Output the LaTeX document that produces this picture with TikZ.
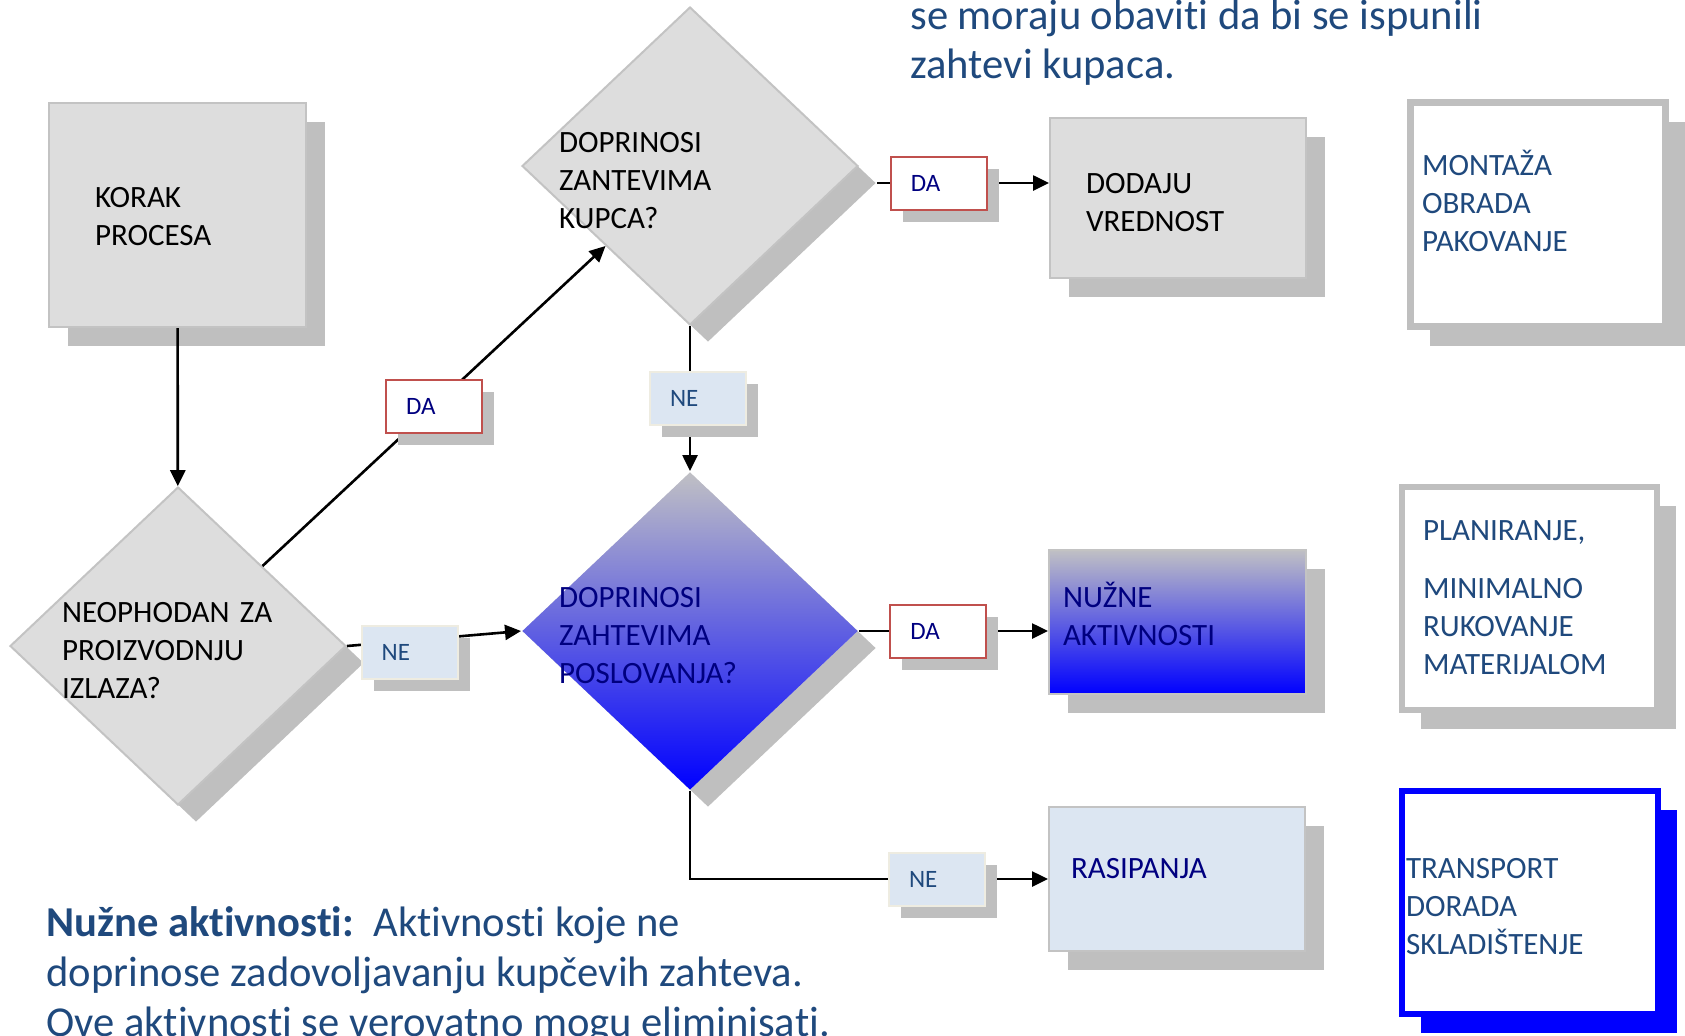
\documentclass[tikz,border=0pt]{standalone}
\usepackage{fontspec}
\setmainfont{Carlito}[Ligatures=NoCommon]
\usetikzlibrary{shapes,arrows.meta,calc,shadows}
\definecolor{boxgray}{RGB}{221,221,221}
\definecolor{edgegray}{RGB}{195,195,195}
\definecolor{shadegray}{RGB}{191,191,191}
\definecolor{fadegray}{RGB}{192,192,196}
\definecolor{darktext}{RGB}{31,73,125}
\definecolor{navytext}{RGB}{0,0,128}
\definecolor{labelred}{RGB}{192,80,77}
\definecolor{paleblue}{RGB}{220,230,242}
\definecolor{paleedge}{RGB}{238,236,225}
\definecolor{vividblue}{RGB}{0,0,255}
\tikzset{
block/.style = {draw=edgegray, line width=1pt, fill=boxgray, rectangle, align=left, inner ysep=0pt, text height=10pt,
  drop shadow={shadow xshift=9.5pt, shadow yshift=-9.5pt, opacity=1, fill=shadegray}},
condition/.style = {draw=edgegray, line width=1pt, fill=boxgray, diamond, aspect=1.057, align=left, inner sep=0pt,
  minimum width=168pt, minimum height=159pt, text width=131pt,
  drop shadow={shadow xshift=9pt, shadow yshift=-8.5pt, opacity=1, fill=shadegray}},
answer/.style = {line width=1pt, rectangle, align=left, font=\fontsize{12.5}{14}\selectfont, text width=28pt, inner xsep=10pt, inner ysep=0pt, minimum height=26.5pt,
  drop shadow={shadow xshift=6pt, shadow yshift=-6pt, opacity=1, fill=shadegray}},
dalabel/.style = {answer, draw=labelred, fill=white, text=navytext},
nelabel/.style = {answer, draw=paleedge, fill=paleblue, text=darktext},
listbox/.style = {draw=#1, line width=3pt, fill=white, rectangle, align=left, inner ysep=0pt, text height=10pt, text=darktext, minimum width=127.5pt, minimum height=111.5pt,
  drop shadow={shadow xshift=9.5pt, shadow yshift=-9.5pt, opacity=1, fill=#1}},
listbox/.default = shadegray,
note/.style = {anchor=base west, align=left, inner sep=0pt, text=darktext},
flow/.style = {->, line width=1.3pt}
}
\begin{document}
\begin{tikzpicture}[x=0.5pt, y=-0.5pt, >={Triangle[length=8pt,width=7.5pt]}, every node/.style={font=\fontsize{15.5}{19}\selectfont}]
    \useasboundingbox (0,0) rectangle (1685,1035);
    \clip (0,0) rectangle (1685,1035);
    \node[block, minimum width=128.5pt, minimum height=112pt, text width=82.5pt, inner xsep=23pt, text depth=18pt] (proc) at (177.5,215) {KORAK\\PROCESA};
    \node[condition, text width=116pt, text height=4pt, text depth=28pt] (dq0) at (178,646) {NEOPHODAN ZA\\PROIZVODNJU\\IZLAZA?};
    \node[condition, text height=8pt, text depth=22pt] (dq1) at (690,166) {DOPRINOSI\\ZANTEVIMA\\KUPCA?};
    \node[condition, draw=none, top color=fadegray, bottom color=vividblue, text=navytext, text height=4pt, text depth=28pt] (dq2) at (690,631) {DOPRINOSI\\ZAHTEVIMA\\POSLOVANJA?};
    \node[block, minimum width=128pt, minimum height=80pt, text width=92pt, inner xsep=18pt, text depth=15pt] (vred) at (1178,198) {DODAJU\\VREDNOST};
    \node[block, top color=fadegray, bottom color=vividblue, text=navytext, minimum width=128.5pt, minimum height=72pt, text width=114.5pt, inner xsep=7pt, text depth=25pt] (nuzne) at (1177.5,622) {NUŽNE\\AKTIVNOSTI};
    \node[block, fill=paleblue, text=navytext, minimum width=128pt, minimum height=72pt, text width=106pt, inner xsep=11pt, text depth=11pt] (waste) at (1177,879) {RASIPANJA};
    \node[listbox, line width=3.5pt, minimum height=112pt, text width=116pt, inner xsep=5.75pt, text depth=49.5pt] (list1) at (1538,214.5) {MONTAŽA\\OBRADA\\PAKOVANJE};
    \node[listbox, text width=106.5pt, inner xsep=10.5pt, text depth=68.5pt] (list2) at (1529.5,598.5) {PLANIRANJE,\\[10pt]MINIMALNO\\RUKOVANJE\\MATERIJALOM};
    \node[listbox=vividblue, minimum width=128pt, text width=124pt, inner xsep=2pt, text depth=34.5pt] (list3) at (1530,902.5) {TRANSPORT\\DORADA\\SKLADIŠTENJE};
    \node[note, font=\fontsize{21.3}{24.5}\selectfont] (topnote) at (910,78) {se moraju obaviti da bi se ispunili\\zahtevi kupaca.};
    \node[note, font=\fontsize{21.3}{25}\selectfont] (bottomnote) at (46,1036) {\textbf{Nužne aktivnosti:}\ \ Aktivnosti koje ne\\doprinose zadovoljavanju kupčevih zahteva.\\Ove aktivnosti se verovatno mogu eliminisati.};
    \coordinate (out1) at ([shift={(9pt,-8.5pt)}]dq1.east);
    \draw[flow] (proc) -- (dq0);
    \draw[flow] (dq0.north east) -- node[dalabel]{DA} (dq1.south west);
    \draw[flow] (dq1.south) -- node[nelabel, xshift=4pt]{NE} (dq2.north);
    \draw[flow] (dq0.east) -- node[nelabel, pos=0.36, yshift=-6pt]{NE} (dq2.west);
    \draw[flow] (out1) -- node[dalabel, pos=0.36]{DA} (out1 -| vred.west);
    \draw[flow] (dq2.east) -- node[dalabel, pos=0.42]{DA} (dq2.east -| nuzne.west);
    \draw[flow] (dq2.south) |- node[nelabel, pos=0.845]{NE} (waste.west);
\end{tikzpicture}
\end{document}
